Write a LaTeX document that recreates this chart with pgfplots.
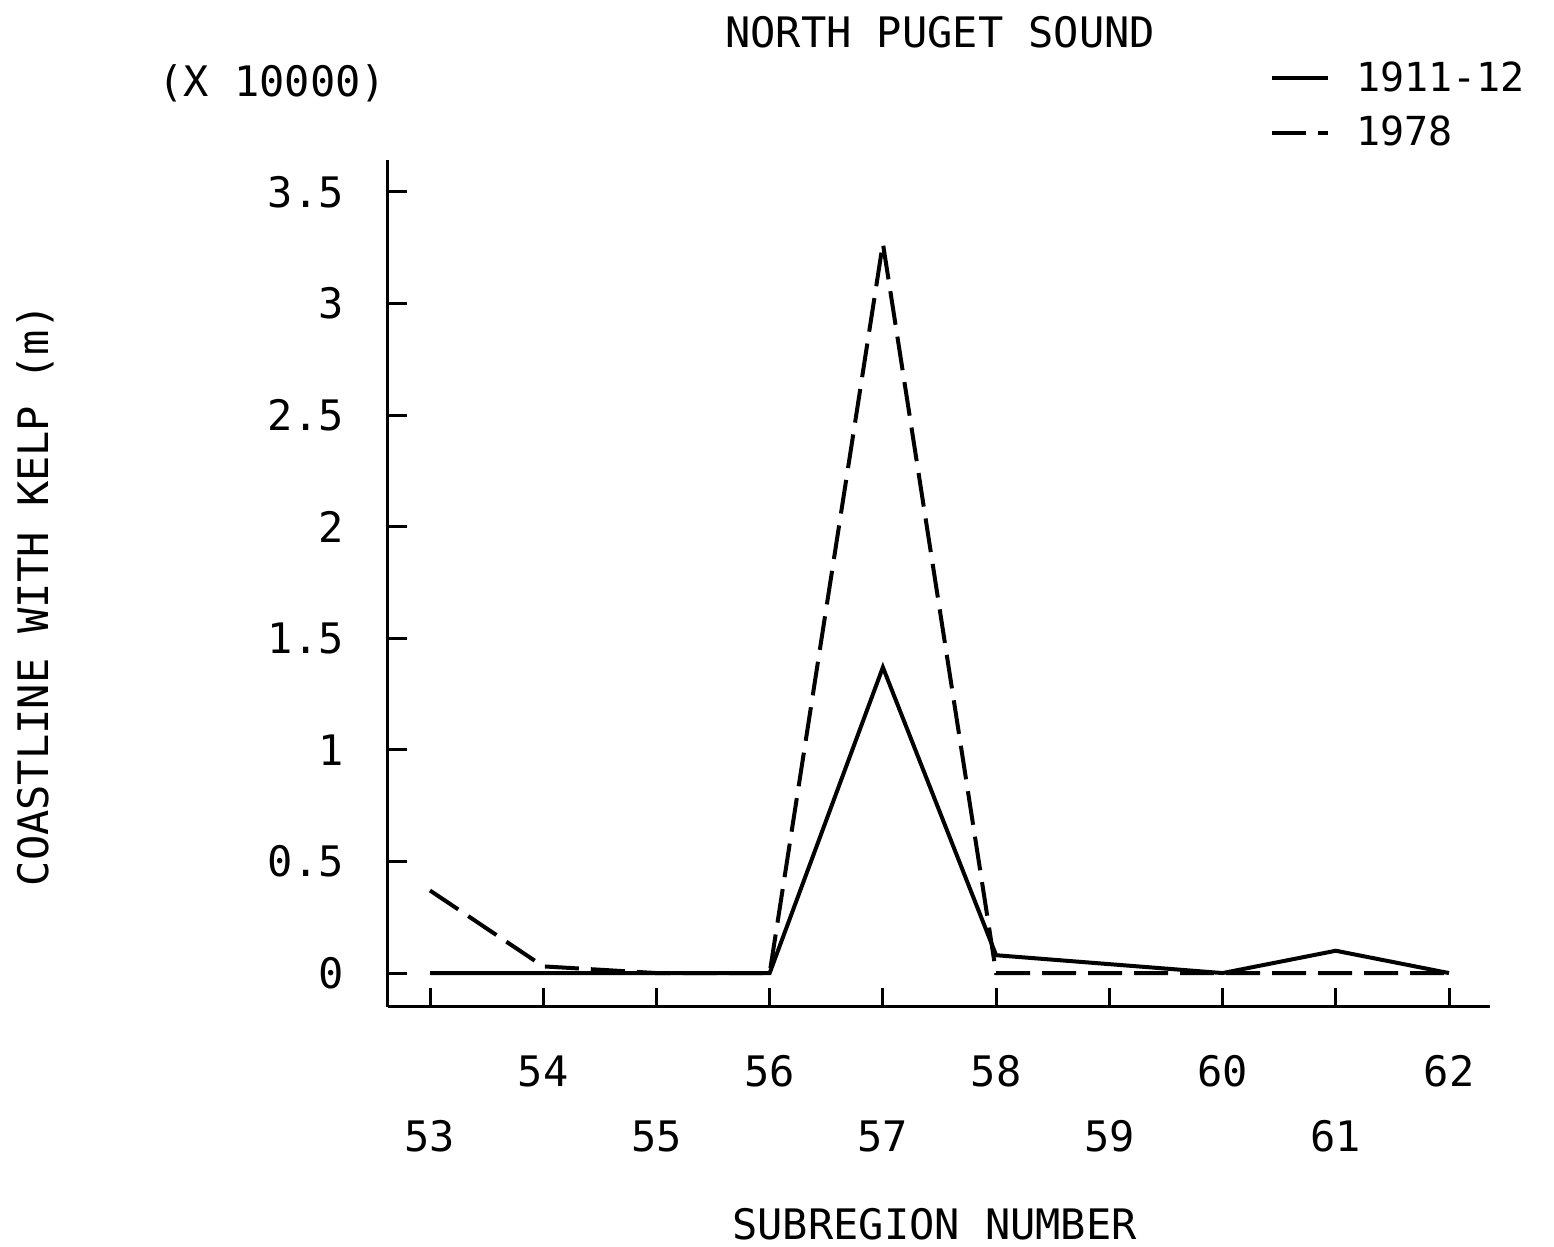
\documentclass[border=0pt]{standalone}
\usepackage{fontspec}
\setmainfont{DejaVu Sans Mono}
\usepackage{pgfplots}
\pgfplotsset{compat=1.18}
\newcommand{\plotfont}{\fontsize{21pt}{25pt}\selectfont}
\begin{document}
\begin{tikzpicture}
\useasboundingbox (-194pt,-120pt) rectangle (583pt,503.5pt);
\begin{axis}[
  scale only axis,
  width=551pt, height=423.5pt,
  xmin=52.629, xmax=62.362,
  ymin=-0.152, ymax=3.643,
  axis x line*=bottom, axis y line*=left,
  axis line style={line width=1.5pt,-},
  tick align=inside,
  major tick length=9.5pt,
  every tick/.style={line width=1.5pt,black},
  xtick={54,56,58,60,62},
  xticklabels={54,56,58,60,62},
  extra x ticks={53,55,57,59,61},
  extra x tick labels={53,55,57,59,61},
  extra x tick style={xticklabel style={yshift=-32.5pt}},
  xticklabel style={font=\plotfont, anchor=north, inner sep=0pt, yshift=-24pt},
  ytick={0,0.5,1,1.5,2,2.5,3,3.5},
  yticklabels={0,0.5,1,1.5,2,2.5,3,3.5},
  yticklabel style={font=\plotfont, anchor=east, inner sep=0pt, xshift=-22pt},
  title={NORTH PUGET SOUND},
  title style={font=\plotfont, at={(0.501,1.137)}, anchor=center},
  xlabel={SUBREGION NUMBER},
  every axis x label/.style={at={(0.496,-0.257)}, anchor=center, font=\plotfont},
  ylabel={COASTLINE WITH KELP (m)},
  every axis y label/.style={at={(-0.320,0.486)}, anchor=center, rotate=90, font=\plotfont},
  legend style={draw=none, fill=none, at={(0.800,1.119)}, anchor=north west, font=\fontsize{20pt}{24pt}\selectfont, inner sep=0pt, row sep=9pt, legend cell align=left, nodes={inner sep=1pt}},
  legend image code/.code={\draw[#1] (0pt,0pt) -- (28pt,0pt);},
  clip=false,
]
\addplot[black, line width=2pt] coordinates {
  (53,0) (54,0) (55,0) (56,0) (57,1.37) (58,0.08) (59,0.04) (60,0) (61,0.1) (62,0)
};
\addlegendentry{\hspace{12pt}1911-12}
\addplot[black, line width=2pt, dash pattern=on 17pt off 6pt] coordinates {
  (53,0.37) (54,0.03) (55,0) (56,0) (57,3.27) (58,0) (59,0) (60,0) (61,0) (62,0)
};
\addlegendentry{\hspace{12pt}1978}
\node[font=\plotfont, anchor=center] at (rel axis cs:-0.105,1.091) {(X 10000)};
\end{axis}
\end{tikzpicture}
\end{document}
